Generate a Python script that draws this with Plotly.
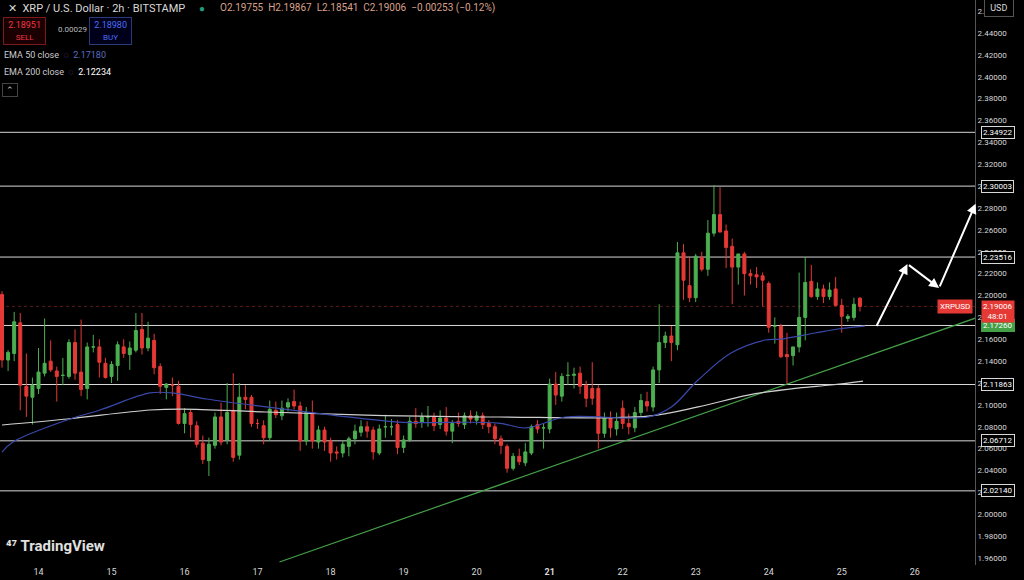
import plotly.graph_objects as go

ohlc = [
(2.201,2.204,2.134,2.141),(2.141,2.150,2.131,2.148),(2.147,2.185,2.140,2.176),(2.175,2.184,2.095,2.118),
(2.117,2.147,2.089,2.108),(2.107,2.125,2.082,2.118),(2.115,2.152,2.110,2.130),(2.129,2.179,2.126,2.138),
(2.140,2.159,2.130,2.132),(2.131,2.135,2.103,2.126),(2.127,2.143,2.118,2.127),(2.126,2.160,2.124,2.157),
(2.157,2.169,2.123,2.129),(2.130,2.178,2.108,2.114),(2.115,2.157,2.105,2.153),(2.153,2.164,2.148,2.153),
(2.153,2.160,2.125,2.139),(2.138,2.143,2.124,2.125),(2.126,2.140,2.120,2.137),(2.136,2.158,2.122,2.155),
(2.153,2.160,2.143,2.147),(2.146,2.158,2.132,2.152),(2.150,2.184,2.148,2.168),(2.169,2.184,2.146,2.152),
(2.152,2.176,2.149,2.161),(2.159,2.165,2.128,2.134),(2.135,2.138,2.110,2.117),(2.116,2.120,2.105,2.119),
(2.118,2.125,2.108,2.118),(2.117,2.122,2.082,2.083),(2.083,2.097,2.074,2.092),(2.093,2.096,2.070,2.082),
(2.081,2.085,2.061,2.064),(2.065,2.072,2.046,2.050),(2.049,2.070,2.035,2.064),(2.063,2.093,2.060,2.089),
(2.089,2.102,2.063,2.066),(2.068,2.120,2.064,2.093),(2.095,2.129,2.048,2.052),(2.054,2.120,2.050,2.107),
(2.107,2.118,2.096,2.105),(2.107,2.109,2.080,2.083),(2.083,2.087,2.078,2.083),(2.081,2.086,2.064,2.070),
(2.070,2.104,2.067,2.096),(2.095,2.103,2.088,2.091),(2.090,2.104,2.086,2.097),(2.098,2.106,2.094,2.102),
(2.103,2.114,2.096,2.099),(2.099,2.103,2.058,2.067),(2.067,2.098,2.063,2.093),(2.093,2.104,2.060,2.067),
(2.066,2.081,2.060,2.077),(2.077,2.080,2.058,2.066),(2.067,2.070,2.048,2.056),(2.057,2.062,2.050,2.056),
(2.056,2.067,2.052,2.064),(2.062,2.071,2.053,2.069),(2.069,2.082,2.064,2.076),(2.075,2.086,2.071,2.080),
(2.080,2.085,2.070,2.076),(2.077,2.080,2.050,2.057),(2.056,2.082,2.054,2.078),(2.080,2.091,2.070,2.080),
(2.080,2.087,2.072,2.080),(2.082,2.086,2.055,2.061),(2.061,2.072,2.056,2.068),(2.068,2.089,2.066,2.085),
(2.085,2.097,2.079,2.083),(2.084,2.093,2.079,2.089),(2.089,2.099,2.080,2.089),(2.089,2.093,2.076,2.081),
(2.082,2.095,2.078,2.088),(2.088,2.098,2.072,2.076),(2.076,2.086,2.065,2.083),(2.085,2.093,2.080,2.083),
(2.082,2.093,2.078,2.090),(2.090,2.095,2.083,2.087),(2.086,2.094,2.082,2.090),(2.090,2.093,2.078,2.082),
(2.083,2.086,2.074,2.080),(2.080,2.083,2.064,2.069),(2.069,2.072,2.055,2.063),(2.062,2.064,2.038,2.042),
(2.042,2.056,2.040,2.053),(2.053,2.060,2.045,2.048),(2.047,2.065,2.044,2.057),(2.056,2.082,2.054,2.080),
(2.082,2.086,2.074,2.078),(2.079,2.083,2.060,2.079),(2.078,2.124,2.074,2.119),(2.119,2.130,2.100,2.109),
(2.108,2.129,2.103,2.126),(2.127,2.139,2.118,2.127),(2.127,2.134,2.115,2.128),(2.129,2.135,2.110,2.117),
(2.118,2.122,2.098,2.106),(2.115,2.139,2.100,2.106),(2.115,2.118,2.060,2.074),(2.074,2.093,2.070,2.088),
(2.088,2.094,2.070,2.079),(2.078,2.093,2.072,2.085),(2.097,2.104,2.078,2.083),(2.083,2.092,2.073,2.080),
(2.079,2.098,2.075,2.093),(2.093,2.110,2.090,2.104),(2.103,2.112,2.094,2.099),(2.098,2.135,2.094,2.132),
(2.132,2.192,2.120,2.157),(2.157,2.167,2.152,2.163),(2.163,2.172,2.140,2.157),(2.155,2.249,2.150,2.239),
(2.239,2.247,2.196,2.214),(2.209,2.235,2.194,2.198),(2.198,2.238,2.194,2.236),(2.235,2.240,2.222,2.224),
(2.224,2.269,2.218,2.257),(2.257,2.301,2.254,2.274),(2.274,2.299,2.260,2.258),(2.259,2.265,2.225,2.244),
(2.245,2.252,2.192,2.226),(2.226,2.232,2.210,2.238),(2.238,2.240,2.200,2.220),(2.220,2.224,2.210,2.218),
(2.219,2.226,2.207,2.217),(2.218,2.221,2.190,2.214),(2.211,2.213,2.166,2.171),(2.172,2.180,2.156,2.172),
(2.172,2.174,2.143,2.144),(2.146,2.166,2.119,2.144),(2.145,2.150,2.136,2.153),(2.153,2.221,2.148,2.180),
(2.180,2.235,2.159,2.212),(2.213,2.228,2.198,2.199),(2.199,2.212,2.196,2.206),(2.206,2.210,2.193,2.199),
(2.199,2.212,2.196,2.205),(2.206,2.217,2.190,2.191),(2.191,2.197,2.166,2.181),(2.179,2.183,2.176,2.181),
(2.180,2.198,2.177,2.192),(2.19755,2.19867,2.18541,2.19006),
]
opens = [r[0] for r in ohlc]; highs = [r[1] for r in ohlc]
lows = [r[2] for r in ohlc]; closes = [r[3] for r in ohlc]
idx = list(range(len(ohlc)))

ema50_x = [0,1.8,10.7,16.1,24.3,28.0,33.6,43.4,54.3,65.2,81.6,86.1,92.6,106.2,110.0,114.4,119.8,125.4,128.0,133.6,137.4,141.8]
ema50_y = [2.0569,2.0661,2.0862,2.0953,2.1109,2.1109,2.1054,2.0981,2.0907,2.0843,2.0834,2.0789,2.0889,2.0889,2.0981,2.1227,2.1474,2.1593,2.1602,2.1657,2.1694,2.1721]
ema200_x = [0,10.7,24.3,29.7,43.4,59.8,81.6,106.2,114.4,122.6,130.8,136.2,141.5]
ema200_y = [2.0816,2.0871,2.0953,2.0962,2.0935,2.0907,2.0889,2.0898,2.0981,2.1090,2.1154,2.1182,2.1218]

levels = [2.34922, 2.30003, 2.23516, 2.17260, 2.11863, 2.06712, 2.02140]
trend_x = [45.6, 160.0]; trend_y = [1.9563, 2.1794]
arrow_x = [143.6, 148.8, 154.0, 160.0]; arrow_y = [2.1707, 2.2288, 2.2069, 2.2840]
day_ticks = [6 + 12*k for k in range(13)]
day_labels = [str(d) for d in range(14, 27)]
last_price = 2.19006

FONT = "Roboto"
fig = go.Figure()
for lv in levels:
    fig.add_shape(type="line", xref="paper", x0=0, x1=1, y0=lv, y1=lv, line=dict(color="#d8d8d8", width=1), layer="below")
fig.add_shape(type="line", xref="paper", x0=0, x1=1, y0=last_price, y1=last_price, line=dict(color="#5a1a1a", width=1, dash="dot"), layer="below")
fig.add_trace(go.Scatter(x=trend_x, y=trend_y, mode="lines", line=dict(color="#43a047", width=1.2), hoverinfo="skip"))
fig.add_trace(go.Scatter(x=ema200_x, y=ema200_y, mode="lines", line=dict(color="#d0d0d0", width=1.2, shape="spline"), hoverinfo="skip"))
fig.add_trace(go.Scatter(x=ema50_x, y=ema50_y, mode="lines", line=dict(color="#3949ab", width=1.2, shape="spline"), hoverinfo="skip"))
fig.add_trace(go.Candlestick(x=idx, open=opens, high=highs, low=lows, close=closes,
    increasing=dict(line=dict(color="#4caf50", width=1), fillcolor="#4caf50"),
    decreasing=dict(line=dict(color="#e53935", width=1), fillcolor="#e53935"),
    whiskerwidth=0))

for i in range(len(arrow_x)-1):
    fig.add_annotation(x=arrow_x[i+1], y=arrow_y[i+1], ax=arrow_x[i], ay=arrow_y[i], xref="x", yref="y", axref="x", ayref="y",
                       showarrow=True, arrowhead=2, arrowsize=1, arrowwidth=2, arrowcolor="white", text="")

for lv in levels:
    green = abs(lv-2.17260) < 1e-9
    fig.add_annotation(xref="paper", x=1, xanchor="left", xshift=6, y=lv, yref="y", text=f"{lv:.5f}", showarrow=False,
                       font=dict(family=FONT, size=8, color="white"), bgcolor="#43a047" if green else "black",
                       bordercolor="#43a047" if green else "#d8d8d8", borderwidth=1, borderpad=1)
fig.add_annotation(xref="paper", x=1, xanchor="left", xshift=6, y=last_price, yref="y", yshift=-5, text=f"{last_price:.5f}<br>48:01",
                   showarrow=False, font=dict(family=FONT, size=8, color="white"), bgcolor="#e53935", borderpad=1, align="center")
fig.add_annotation(xref="paper", x=1, xanchor="right", xshift=-2, y=last_price, yref="y", text="XRPUSD",
                   showarrow=False, font=dict(family=FONT, size=8, color="white"), bgcolor="#e53935", borderpad=2)

P = dict(xref="paper", yref="paper", showarrow=False, xanchor="left", yanchor="middle")
fig.add_annotation(x=0, y=1-8/565, xshift=6, text="✕  XRP / U.S. Dollar · 2h · BITSTAMP", font=dict(family=FONT, size=11, color="#d8d8d8"), **P)
fig.add_annotation(x=197/975, y=1-8/565, text="<span style='color:#1e9e7e'>●</span>", font=dict(size=10), **P)
fig.add_annotation(x=218/975, y=1-8/565, text="O2.19755  H2.19867  L2.18541  C2.19006  −0.00253 (−0.12%)", font=dict(family=FONT, size=10, color="#d9a08a"), **P)
fig.add_annotation(x=3/975, y=1-31/565, text="<span style='color:#f23645'> 2.18951 </span><br><span style='color:#f23645;font-size:8px'>SELL</span>",
                   font=dict(family=FONT, size=9), bgcolor="#1a0000", bordercolor="#7a1a1a", borderwidth=1, borderpad=2, **P)
fig.add_annotation(x=56/975, y=1-30/565, text="0.00029", font=dict(family=FONT, size=8, color="#bbbbbb"), **P)
fig.add_annotation(x=89/975, y=1-31/565, text="<span style='color:#4a6cf7'> 2.18980 </span><br><span style='color:#4a6cf7;font-size:8px'>BUY</span>",
                   font=dict(family=FONT, size=9), bgcolor="#00001a", bordercolor="#2a3a7a", borderwidth=1, borderpad=2, **P)
fig.add_annotation(x=2/975, y=1-55/565, text="EMA 50 close  <span style='color:#7e57c2'>◌</span>  <span style='color:#5c6bc0'>2.17180</span>", font=dict(family=FONT, size=9, color="#cccccc"), **P)
fig.add_annotation(x=2/975, y=1-72/565, text="EMA 200 close  <span style='color:#7e57c2'>◌</span>  <span style='color:#ffffff'>2.12234</span>", font=dict(family=FONT, size=9, color="#cccccc"), **P)
fig.add_annotation(x=2/975, y=1-90/565, text=" ⌃ ", font=dict(family=FONT, size=9, color="#cccccc"), bordercolor="#444", borderwidth=1, borderpad=1, **P)
fig.add_annotation(x=4/975, y=1-546/565, text="<b>⁴⁷ TradingView</b>", font=dict(family=FONT, size=15, color="#e0e0e0"), **P)
fig.add_annotation(x=1, xshift=9, y=1-8/565, text=" USD ", font=dict(family=FONT, size=9, color="#d8d8d8"), bgcolor="black", bordercolor="#555", borderwidth=1, borderpad=3, **P)

ticktext = [f"<b>{t}</b>" if t == "21" else t for t in day_labels]
fig.update_layout(
    width=1024, height=580, margin=dict(l=0, r=49, t=0, b=15),
    paper_bgcolor="black", plot_bgcolor="black", showlegend=False,
    xaxis=dict(range=[-0.33, 159.9], rangeslider=dict(visible=False), tickvals=day_ticks, ticktext=ticktext, automargin=False,
               showgrid=False, zeroline=False, tickfont=dict(family=FONT, size=9, color="#d8d8d8"), ticks="", fixedrange=True),
    yaxis=dict(side="right", range=[1.9536, 2.4702], dtick=0.02, tickformat=".5f", showgrid=False, zeroline=False, automargin=False,
               tickfont=dict(family=FONT, size=8, color="#d8d8d8"), ticks="", showline=True, linecolor="#555", mirror=False),
)
fig.write_html("out.html", config={"displayModeBar": False},
               post_script="document.body.style.margin='0';document.body.style.overflow='hidden';")
